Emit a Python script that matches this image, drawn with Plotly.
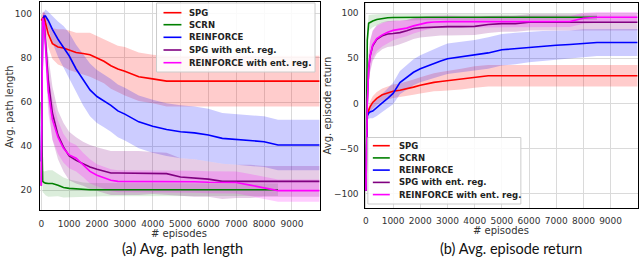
import numpy as np
import plotly.graph_objects as go

# ---------------- data ----------------
episodes = [0, 50, 100, 150, 250, 400, 600, 800, 1000, 1250, 1500, 1750, 2000, 2250, 2500,
            2750, 3000, 3500, 4000, 4500, 5000, 5500, 6000, 6500, 7000, 7500, 8000, 8500,
            9000, 9500, 9999]

series_names = ["SPG", "SCRN", "REINFORCE", "SPG with ent. reg.", "REINFORCE with ent. reg."]

# (a) average path length : mean and spread
spg_len = [97, 98, 99, 96, 91, 86.5, 85, 84.5, 83.5, 82.5, 82, 81.5, 80, 78.5, 76.5,
           75, 74, 71.5, 70.5, 69.5, 69.5, 69.5, 69.5, 69.5, 69.5, 69.5, 69.5, 69.5, 69.5, 69.5, 69.5]
spg_len_sd = [2, 2, 2, 4, 6, 7, 8, 8.5, 9, 9, 9.5, 10, 10, 10, 10.5,
              10.5, 11, 11, 11, 11.5, 11.5, 11.5, 11.5, 11.5, 11.5, 11.5, 11.5, 11.5, 11.5, 11.5, 11.5]
scrn_len = [60, 24, 23.5, 23.2, 23, 23, 22.2, 21.2, 20.8, 20.5, 20.3, 20.2, 20.2, 20.2, 20.2,
            20.2, 20.2, 20.2, 20.2, 20.2, 20.2, 20.2, 20.2, 20.2, 20.2, 20.2, 20.2, 20.2]
scrn_len_sd = [5, 5, 5, 5.5, 6, 6, 5, 4.5, 4, 3.5, 3.2, 3, 3, 3, 3,
               3, 3, 2.8, 2.8, 2.8, 2.8, 2.8, 2.8, 2.8, 2.8, 2.8, 2.8, 2.8]
reinforce_len = [33, 96, 99, 99, 97, 93, 88.5, 85, 81, 75, 70, 65.5, 62.5, 60.5, 58.5,
                 56, 54.5, 51, 49, 47.5, 46.5, 46, 45, 43.5, 43, 42.5, 42, 40.5, 40.5, 40.5, 40.5]
reinforce_len_sd = [2, 2, 2, 3, 4, 6, 8, 9.5, 10.5, 11, 11.5, 12, 12, 12, 12,
                    12, 12, 12, 12, 12, 12, 12, 12, 11.5, 11.5, 11.5, 11.5, 11.5, 11.5, 11.5, 11.5]
spg_ent_len = [22, 98, 97, 88, 70, 55, 45, 39.5, 35.5, 33.5, 32, 30.5, 29.5, 28.5, 27.8,
               27.8, 27.8, 27.8, 27.8, 27.5, 26, 25.5, 25, 24, 24, 24, 24, 24, 24, 24, 24]
spg_ent_len_sd = [3, 3, 4, 8, 11, 12, 11, 11, 11, 10.5, 10, 10, 10, 10, 10,
                  10, 10, 10, 9.5, 9.5, 8.5, 8.5, 8, 8, 7.5, 7.5, 7, 7, 7, 7, 7]
reinforce_ent_len = [22, 98, 96, 85, 65, 52, 44, 39, 36, 34.5, 31.5, 28.5, 26.8, 25.5, 24.5,
                     24, 24, 24, 24, 24, 24, 23.8, 23.6, 23.6, 23.5, 22.3, 20.9, 19.8, 19.8, 19.8, 19.8]
reinforce_ent_len_sd = [3, 3, 4, 8, 10, 9, 7.5, 6.5, 6, 6, 5.5, 5.5, 5, 5, 5,
                        5, 5, 5, 5, 5, 5, 5, 5, 5, 5, 5, 5, 5, 5, 5, 5]

# (b) average episode return : mean and spread
spg_ret = [-97, -13, -8, -4, 1, 5.5, 9.5, 11.5, 13.5, 14.5, 16, 18, 20, 22, 23.3,
           24.2, 25.2, 27, 29.2, 30.7, 30.7, 30.7, 30.7, 30.7, 30.7, 30.7, 30.7, 30.7, 30.7, 30.7, 30.7]
spg_ret_sd = [2, 4, 5, 6, 7, 7, 7, 7, 7.5, 7.5, 8, 8.5, 9, 9.5, 10,
              10.5, 11, 11.5, 12, 12, 12, 12, 12, 12, 12, 12, 12, 12, 12, 12, 12]
scrn_ret = [-97, 70, 89, 90, 91.5, 93, 94.4, 95, 95.3, 95.5, 95.5, 95.5, 95.5, 95.5, 95.5,
            95.5, 95.5, 95.5, 95.5, 95.5, 95.5, 95.5, 95.5, 95.5, 95.5, 95.5, 95.5, 95.5]
scrn_ret_sd = [3, 10, 9, 8, 7, 6, 5, 4.5, 4, 3.8, 3.5, 3.2, 3, 3, 3,
               3, 3, 3, 3, 3, 3, 3, 3, 3, 3, 3, 3, 3]
reinforce_ret = [-97, -14, -11, -9.5, -8.5, -5, 0.5, 5.5, 11, 23, 29, 34.5, 38.5, 41.5, 44.5,
                 47, 49.5, 51.5, 53.3, 56, 59.5, 60.8, 62.5, 63.8, 64.5, 65.3, 66.8, 67.5, 67.5, 67.5, 67.5]
reinforce_ret_sd = [2, 5, 6, 7, 8, 9, 10, 11, 12, 13, 14, 14.5, 15, 15.5, 16,
                    16.5, 17, 17, 17, 17.5, 17.5, 17.5, 17, 16.5, 16, 15.5, 15.5, 15, 15, 15, 15]
spg_ent_ret = [-97, 0, 38, 52, 64, 71, 75, 77, 77.5, 78.5, 80.5, 83, 84, 84.5, 85,
               85.2, 85.2, 85.2, 85.5, 87.5, 88.5, 88.5, 90, 90, 90, 90, 90, 90, 90, 90, 90]
spg_ent_ret_sd = [3, 15, 18, 18, 17, 16, 15, 14.5, 14, 13, 12, 11.5, 11, 10.5, 10.5,
                  10, 10, 10, 9.5, 9.5, 9, 9, 9, 9, 9, 9, 9, 9, 9, 9, 9]
reinforce_ent_ret = [-97, 0, 38, 52, 65, 72, 76, 79, 81, 82.5, 83.5, 86, 88, 89.6, 90.3,
                     90.7, 90.7, 90.7, 90.7, 90.7, 90.7, 90.7, 90.7, 90.7, 90.7, 90.8, 94.5, 95.5, 95.5, 95.5, 95.5]
reinforce_ent_ret_sd = [3, 14, 16, 16, 15, 14, 13, 12, 11, 10, 9, 8.5, 8, 7.5, 7,
                        7, 7, 6.5, 6.5, 6.5, 6, 6, 6, 6, 6, 6, 6, 6, 6, 6, 6]

x_ticks = [0, 1000, 2000, 3000, 4000, 5000, 6000, 7000, 8000, 9000]
len_ticks = [20, 40, 60, 80, 100]
ret_ticks = [-100, -50, 0, 50, 100]

captions = ["(a) Avg. path length", "(b) Avg. episode return"]
y_titles = ["Avg. path length", "Avg. episode return"]
x_title = "# episodes"

# ---------------- styling ----------------
line_colors = ["#ff0000", "#008000", "#0000ff", "#800080", "#ff00ff"]
band_colors = ["rgba(255,0,0,0.2)", "rgba(0,128,0,0.14)", "rgba(0,0,255,0.2)",
               "rgba(128,0,128,0.2)", "rgba(255,0,255,0.2)"]

W, H = 640, 258


def px(x):
    return x / W


def py(y):
    return 1 - y / H


fig = go.Figure()

panels = [
    ("x", "y", [(spg_len, spg_len_sd), (scrn_len, scrn_len_sd), (reinforce_len, reinforce_len_sd),
                (spg_ent_len, spg_ent_len_sd), (reinforce_ent_len, reinforce_ent_len_sd)]),
    ("x2", "y2", [(spg_ret, spg_ret_sd), (scrn_ret, scrn_ret_sd), (reinforce_ret, reinforce_ret_sd),
                  (spg_ent_ret, spg_ent_ret_sd), (reinforce_ent_ret, reinforce_ent_ret_sd)]),
]

# bands first
for xa, ya, data in panels:
    for i, (m, s) in enumerate(data):
        m = np.array(m, dtype=float)
        s = np.array(s, dtype=float)
        xs = episodes[:len(m)]
        fig.add_trace(go.Scatter(x=xs, y=m + s, mode="lines", line=dict(width=0),
                                 showlegend=False, hoverinfo="skip", xaxis=xa, yaxis=ya))
        fig.add_trace(go.Scatter(x=xs, y=m - s, mode="lines", line=dict(width=0),
                                 fill="tonexty", fillcolor=band_colors[i],
                                 showlegend=False, hoverinfo="skip", xaxis=xa, yaxis=ya))
# mean lines
for xa, ya, data in panels:
    for i, (m, s) in enumerate(data):
        xs = episodes[:len(m)]
        fig.add_trace(go.Scatter(x=xs, y=m, mode="lines", name=series_names[i],
                                 line=dict(color=line_colors[i], width=1.6),
                                 showlegend=False, xaxis=xa, yaxis=ya))

axis_common = dict(showline=True, linecolor="black", linewidth=1.3, mirror=True,
                   showgrid=True, gridcolor="#dadada", gridwidth=1.4, zeroline=False,
                   ticks="outside", tickcolor="rgba(0,0,0,0)",
                   tickfont=dict(family="DejaVu Sans", size=9, color="#333333"))

fig.update_layout(
    width=W, height=H, margin=dict(l=0, r=0, t=0, b=0),
    paper_bgcolor="white", plot_bgcolor="white", showlegend=False,
    xaxis=dict(domain=[px(38), px(318.5)], range=[-50, 9990], tickvals=x_ticks,
               anchor="y", ticklen=5, **axis_common),
    yaxis=dict(domain=[py(210), py(2)], range=[11, 105.4], tickvals=len_ticks,
               anchor="x", ticklen=5, **axis_common),
    xaxis2=dict(domain=[px(363.7), px(637.5)], range=[-50, 9990], tickvals=x_ticks,
                anchor="y2", ticklen=4, **axis_common),
    yaxis2=dict(domain=[py(208.3), py(3)], range=[-116.5, 111.4], tickvals=ret_ticks,
                anchor="x2", ticklen=3, **axis_common),
)

annotations = []
shapes = []
title_font = dict(family="DejaVu Sans", size=10, color="#333333")
# axis titles
annotations.append(dict(text=y_titles[0], x=px(7), y=py(106), xref="paper", yref="paper",
                        textangle=-90, showarrow=False, font=title_font,
                        xanchor="center", yanchor="middle"))
annotations.append(dict(text=y_titles[1], x=px(326.5), y=py(105), xref="paper", yref="paper",
                        textangle=-90, showarrow=False, font=title_font,
                        xanchor="center", yanchor="middle"))
annotations.append(dict(text=x_title, x=px(178), y=py(233), xref="paper", yref="paper",
                        showarrow=False, font=title_font, xanchor="center", yanchor="middle"))
annotations.append(dict(text=x_title, x=px(501), y=py(230.5), xref="paper", yref="paper",
                        showarrow=False, font=title_font, xanchor="center", yanchor="middle"))
# captions
cap_font = dict(family="Lato", size=14.5, color="#111111")
annotations.append(dict(text=captions[0], x=px(181), y=py(248), xref="paper", yref="paper",
                        showarrow=False, font=cap_font, xanchor="center", yanchor="middle"))
annotations.append(dict(text=captions[1], x=px(511), y=py(248), xref="paper", yref="paper",
                        showarrow=False, font=cap_font, xanchor="center", yanchor="middle"))

# manual legends
legends = [
    dict(box=(155, 3, 314, 72), line_x=(162, 180), text_x=186, rows=[12.7, 24.7, 37.3, 50, 62.7]),
    dict(box=(367, 137.5, 520.5, 204), line_x=(372, 389), text_x=396, rows=[145.7, 157.9, 170.1, 182.4, 194.6]),
]
for lg in legends:
    x0, y0, x1, y1 = lg["box"]
    shapes.append(dict(type="rect", xref="paper", yref="paper", x0=px(x0), x1=px(x1),
                       y0=py(y1), y1=py(y0), fillcolor="rgba(255,255,255,0.85)",
                       line=dict(color="#cccccc", width=1), layer="above"))
    for i, ry in enumerate(lg["rows"]):
        shapes.append(dict(type="line", xref="paper", yref="paper",
                           x0=px(lg["line_x"][0]), x1=px(lg["line_x"][1]), y0=py(ry), y1=py(ry),
                           line=dict(color=line_colors[i], width=1.6), layer="above"))
        annotations.append(dict(text="<b>" + series_names[i] + "</b>", x=px(lg["text_x"]), y=py(ry),
                                xref="paper", yref="paper", showarrow=False,
                                font=dict(family="DejaVu Sans", size=8.5, color="#222222"),
                                xanchor="left", yanchor="middle"))

fig.update_layout(annotations=annotations, shapes=shapes)
fig.write_html("out.html", config={"displayModeBar": False},
               post_script="document.body.style.margin='0';document.body.style.overflow='hidden';")
